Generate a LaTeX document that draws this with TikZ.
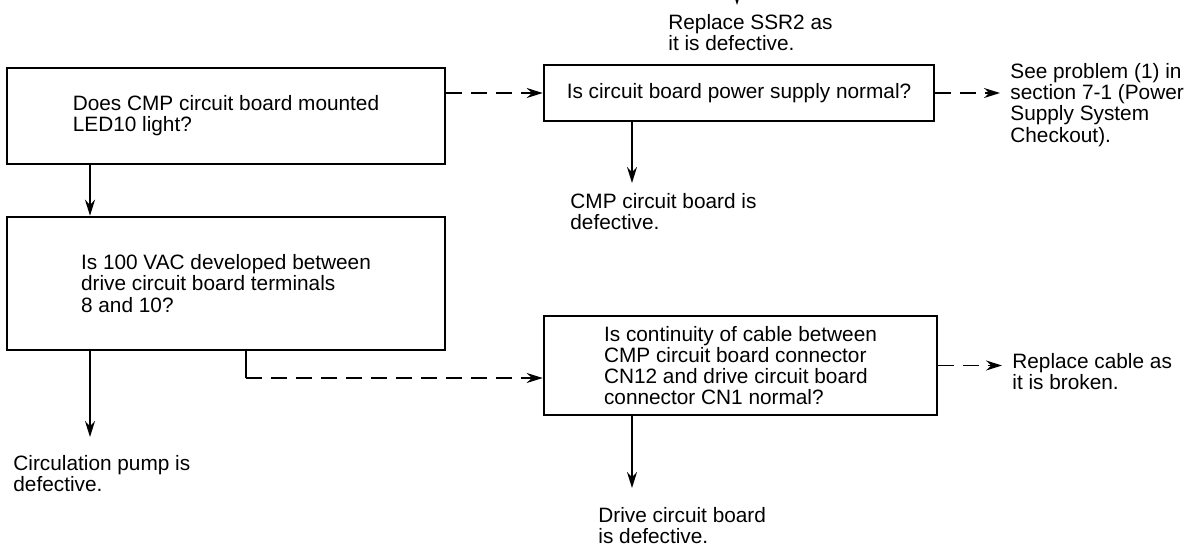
\documentclass[tikz,border=0pt]{standalone}
\usepackage{fontspec}
\setmainfont{Liberation Sans}
\usetikzlibrary{arrows.meta}
\newcommand{\chartfont}{\fontsize{10.4}{10.6}\selectfont}
\tikzstyle{check} = [rectangle, draw=black, line width=1.3pt, align=left, font=\chartfont]
\tikzstyle{verdict} = [anchor=north west, inner sep=0pt, align=left, font=\chartfont]
\tikzstyle{arrow} = [line width=0.9pt, -{Stealth[length=8pt,width=5pt]}]
\tikzstyle{dasharrow} = [arrow, dash pattern=on 8pt off 4.5pt]

\begin{document}
\begin{tikzpicture}[x=0.5pt, y=-0.5pt]
\useasboundingbox (0,0) rectangle (1194,547);
% questions
\node (led) [check, minimum width=219pt, minimum height=48pt] at (226,116) {Does CMP circuit board mounted\\LED10 light?};
\node (vac) [check, minimum width=219pt, minimum height=66.5pt] at (226,283.5) {Is 100 VAC developed between\\drive circuit board terminals\\8 and 10?};
\node (psu) [check, minimum width=195pt, minimum height=28pt] at (739,93) {Is circuit board power supply normal?};
\node (cable) [check, minimum width=196.5pt, minimum height=49.5pt] at (740.5,365.5) {Is continuity of cable between\\CMP circuit board connector\\CN12 and drive circuit board\\connector CN1 normal?};
% results
\node (ssr) [verdict] at (668,14) {Replace SSR2 as\\it is defective.};
\node (seeprob) [verdict] at (1010,63) {See problem (1) in\\section 7-1 (Power\\Supply System\\Checkout).};
\node (cmpbad) [verdict] at (570,193) {CMP circuit board is\\defective.};
\node (broken) [verdict] at (1012,353) {Replace cable as\\it is broken.};
\node (pump) [verdict] at (13,455) {Circulation pump is\\defective.};
\node (drive) [verdict] at (598,507) {Drive circuit board\\is defective.};
% columns of the down arrows
\coordinate (ssrin) at (737,-20);
\coordinate (colA) at (90,0);
\coordinate (colB) at (246,378);
\coordinate (colC) at (632,0);
\draw [arrow, shorten >=4.5pt] (ssrin) -- (ssr.north -| ssrin);
\draw [dasharrow] (led.east |- psu.west) -- (psu.west);
\draw [dasharrow, shorten >=5pt] (psu.east) -- (psu.east -| seeprob.west);
\draw [arrow, shorten >=5pt] (psu.south -| colC) -- (cmpbad.north -| colC);
\draw [arrow] (led.south -| colA) -- (vac.north -| colA);
\draw [arrow, shorten >=9pt] (vac.south -| colA) -- (pump.north -| colA);
\draw [line width=0.9pt] (vac.south -| colB) -- (colB);
\draw [dasharrow] (colB) -- (cable.west |- colB);
\draw [dasharrow, shorten >=5pt] (cable.east) -- (cable.east -| broken.west);
\draw [arrow, shorten >=9.5pt] (cable.south -| colC) -- (drive.north -| colC);
\end{tikzpicture}
\end{document}
